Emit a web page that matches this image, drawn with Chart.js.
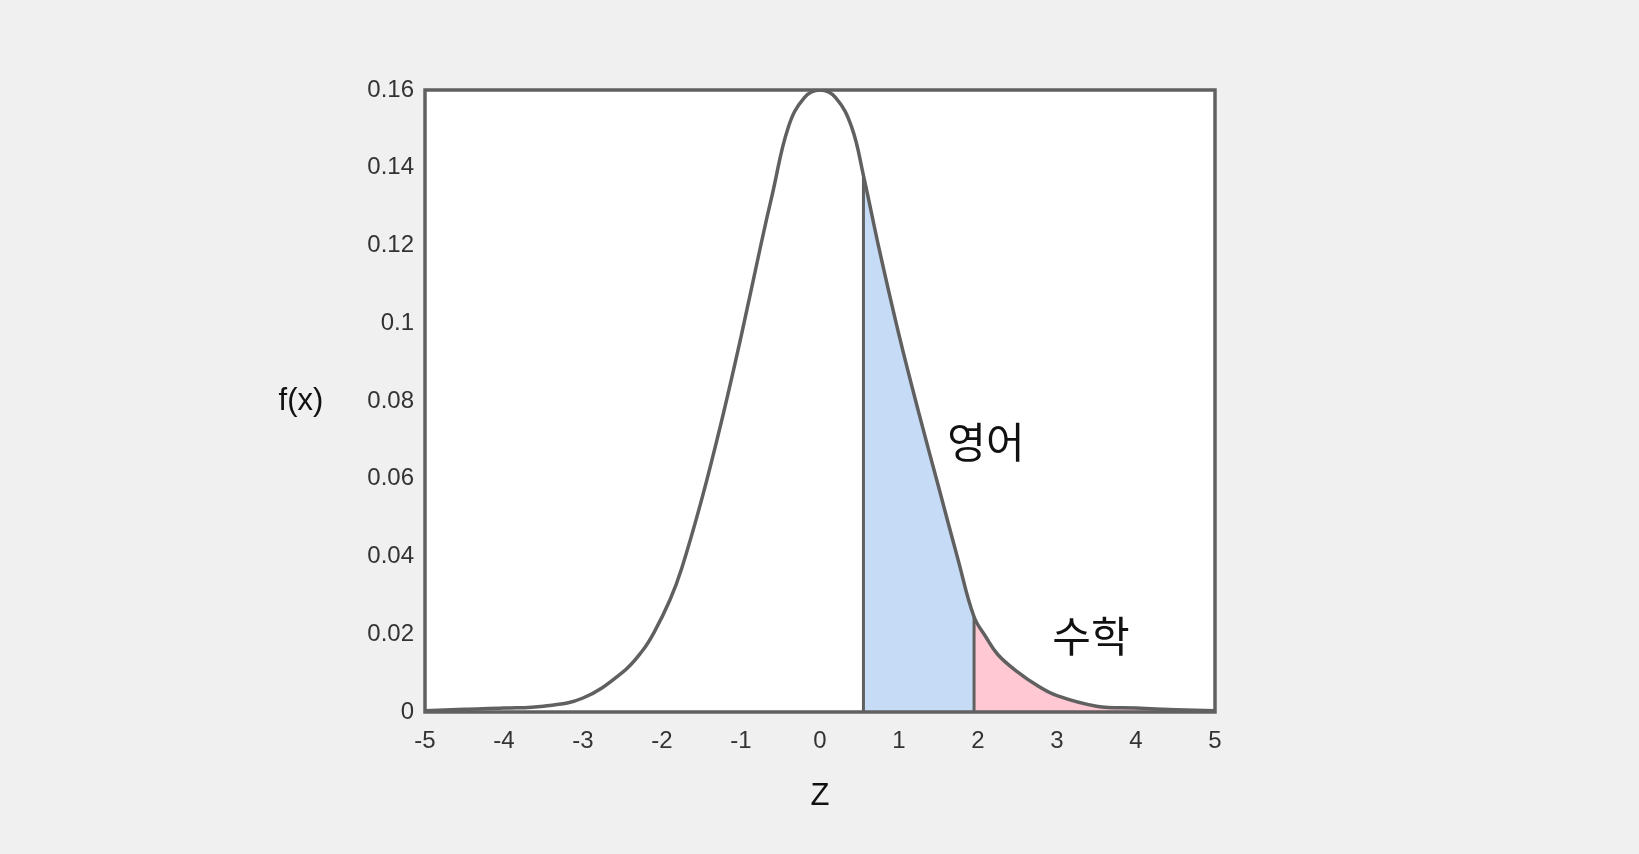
<!DOCTYPE html>
<html>
<head>
<meta charset="utf-8">
<script src="https://cdn.jsdelivr.net/npm/chart.js@4"></script>
<style>
  html, body { margin: 0; padding: 0; background: #f0f0f0; }
  #wrap { position: absolute; left: 0; top: 0; width: 1639px; height: 854px; }
</style>
</head>
<body>
<div id="wrap"><canvas id="zChart"></canvas></div>
<script>
// curve
const zValues = [-5, -4.5, -4, -3.5, -3, -2.5, -2.25, -2.1, -1.9, -1.75, -1.5, -1.25, -1, -0.75, -0.6, -0.4, -0.2, 0,
                 0.2, 0.4, 0.55, 0.75, 1, 1.25, 1.5, 1.75, 1.95, 2.1, 2.25, 2.5, 2.75, 3, 3.5, 4, 4.5, 5];
const fValues = [0.0003, 0.0007, 0.001, 0.0015, 0.0036, 0.0102, 0.0157, 0.0205, 0.0288, 0.037, 0.0545, 0.0745, 0.0965, 0.12, 0.1335, 0.1505, 0.158, 0.16,
                 0.158, 0.1505, 0.138, 0.119, 0.097, 0.077, 0.058, 0.039, 0.0245, 0.0193, 0.0148, 0.0103, 0.0068, 0.0042, 0.0015, 0.001, 0.0006, 0.0003];

// shaded ranges
const englishRange = [0.55, 1.95];
const mathRange = [1.95, 5];
const areaLabels = ["영어", "수학"];
const areaLabelPos = [[2.1, 0.0694], [3.43, 0.0195]];

const xTickLabels = ["-5", "-4", "-3", "-2", "-1", "0", "1", "2", "3", "4", "5"];
const yTickLabels = ["0", "0.02", "0.04", "0.06", "0.08", "0.1", "0.12", "0.14", "0.16"];
const xTitle = "Z";
const yTitle = "f(x)";

const LINE = "#606060";
const points = zValues.map((z, i) => ({ x: z, y: fValues[i] }));
const between = (r) => points.filter(p => p.x >= r[0] && p.x <= r[1]);
const fAt = (z) => fValues[zValues.indexOf(z)];

const boxAndText = {
  id: "boxAndText",
  beforeDatasetsDraw(chart) {
    const { ctx, chartArea: a } = chart;
    ctx.save();
    ctx.fillStyle = "#ffffff";
    ctx.fillRect(a.left, a.top, a.right - a.left, a.bottom - a.top);
    ctx.restore();
  },
  afterDatasetsDraw(chart) {
    const { ctx, chartArea: a, scales } = chart;
    ctx.save();
    ctx.strokeStyle = LINE;
    ctx.lineWidth = 3.5;
    ctx.strokeRect(a.left, a.top, a.right - a.left, a.bottom - a.top);

    ctx.fillStyle = "#111";
    ctx.textAlign = "center";
    ctx.textBaseline = "middle";
    ctx.font = '42px "Noto Sans CJK KR"';
    areaLabels.forEach((t, i) => {
      ctx.fillText(t, scales.x.getPixelForValue(areaLabelPos[i][0]), scales.y.getPixelForValue(areaLabelPos[i][1]));
    });

    ctx.font = '31px "Liberation Sans", Arial, sans-serif';
    ctx.fillText(yTitle, 301, (a.top + a.bottom) / 2);
    ctx.fillText(xTitle, (a.left + a.right) / 2, 796);
    ctx.restore();
  }
};

const curveStyle = { tension: 0.4, pointRadius: 0 };

new Chart(document.getElementById("zChart"), {
  type: "line",
  data: {
    datasets: [
      { data: points, borderColor: LINE, borderWidth: 3.5, fill: false, ...curveStyle },
      { data: [{ x: englishRange[0], y: 0 }, { x: englishRange[0], y: fAt(englishRange[0]) }], borderColor: LINE, borderWidth: 3, pointRadius: 0, fill: false },
      { data: [{ x: englishRange[1], y: 0 }, { x: englishRange[1], y: fAt(englishRange[1]) }], borderColor: LINE, borderWidth: 3, pointRadius: 0, fill: false },
      { data: between(englishRange), borderWidth: 0, backgroundColor: "#c6dbf5", fill: "origin", ...curveStyle },
      { data: between(mathRange), borderWidth: 0, backgroundColor: "#ffc8d2", fill: "origin", ...curveStyle }
    ]
  },
  options: {
    responsive: true,
    maintainAspectRatio: false,
    animation: false,
    layout: { padding: { left: 0, top: 90, right: 424, bottom: 0 } },
    plugins: { legend: { display: false }, tooltip: { enabled: false } },
    scales: {
      x: {
        type: "linear",
        min: -5, max: 5,
        grid: { display: false, drawTicks: false },
        border: { display: false },
        afterFit: (s) => { s.height = 142; },
        afterBuildTicks: (s) => { s.ticks = xTickLabels.map(v => ({ value: Number(v) })); },
        ticks: {
          padding: 15,
          color: "#333",
          font: { family: '"Liberation Sans", Arial, sans-serif', size: 24 },
          callback: (v) => xTickLabels.find(t => Number(t) === v)
        }
      },
      y: {
        min: 0, max: 0.16,
        grid: { display: false, drawTicks: false },
        border: { display: false },
        afterFit: (s) => { s.width = 425; },
        afterBuildTicks: (s) => { s.ticks = yTickLabels.map(v => ({ value: Number(v) })); },
        ticks: {
          padding: 11,
          color: "#333",
          font: { family: '"Liberation Sans", Arial, sans-serif', size: 24 },
          callback: (v) => yTickLabels.find(t => Math.abs(Number(t) - v) < 1e-9)
        }
      }
    }
  },
  plugins: [boxAndText]
});
</script>
</body>
</html>
